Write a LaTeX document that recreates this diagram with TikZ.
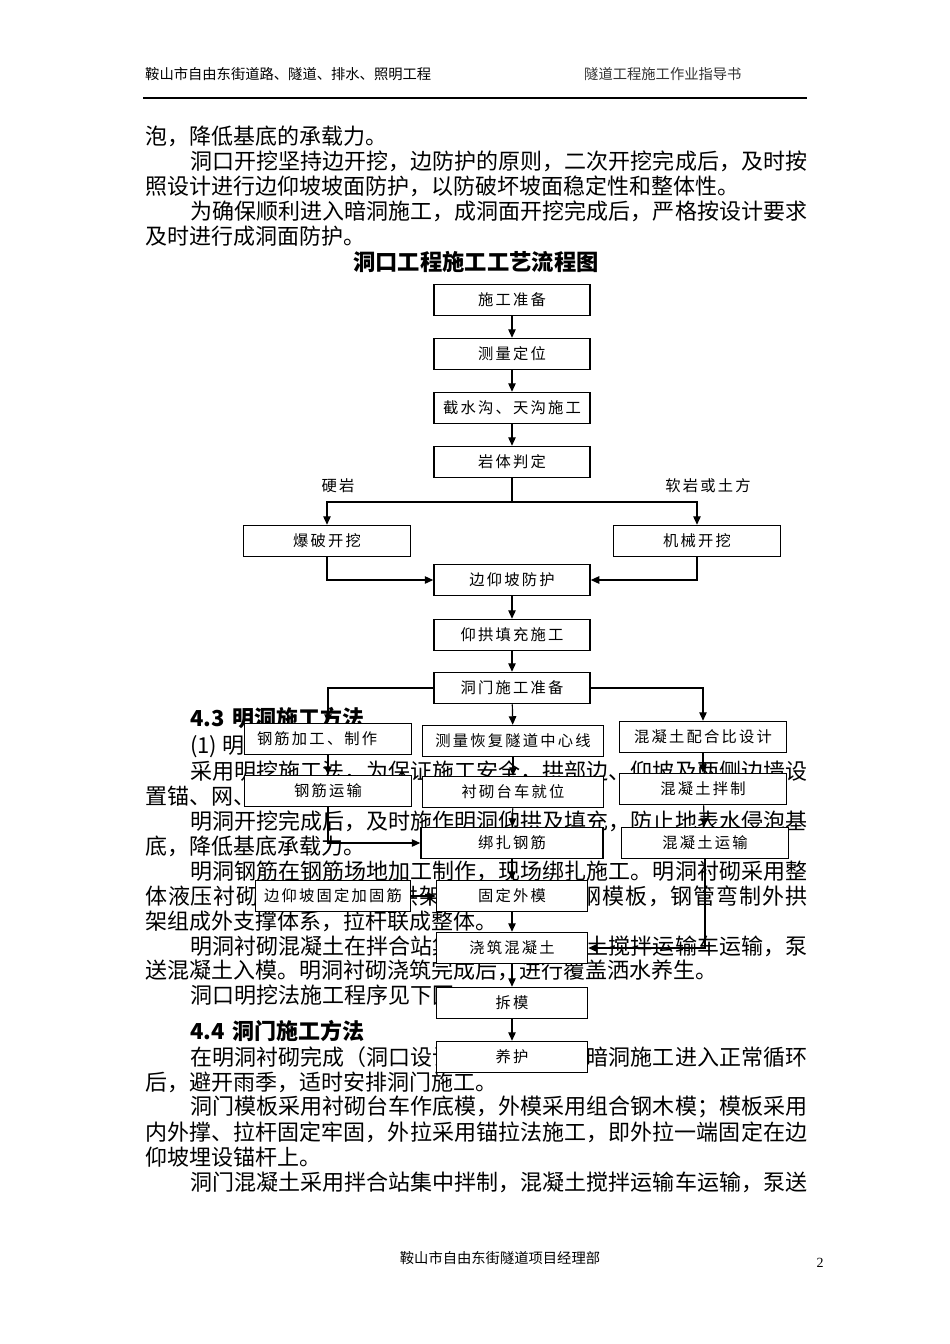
\documentclass[tikz,border=0pt]{standalone}
\usepackage{fontspec}
\setmainfont{Noto Sans CJK SC}
\newfontfamily\numfont{Liberation Serif}
\usetikzlibrary{positioning, arrows.meta}

\makeatletter
% spread a line of characters over a given width
\newcommand\fl[2]{\hbox to #1{\@tfor\tkn:=#2\do{\tkn\hskip0pt plus1fil minus2pt}\unskip}}
% box text with a little letter spacing
\newcommand\bx[1]{\@tfor\tkn:=#1\do{\tkn\hskip2.2pt}\unskip}
\makeatother

\newcommand\bodyf{\fontsize{22pt}{25pt}\selectfont}
\newcommand\boxf{\fontsize{15.3pt}{18pt}\selectfont}
\newcommand\headf{\fontsize{14.3pt}{17pt}\selectfont}

\tikzset{
  box/.style={draw, fill=white, line width=1.5pt, minimum height=31pt, inner sep=0pt, font=\boxf},
  arr/.style={line width=1.2pt, -{Triangle[length=8.5pt,width=7.5pt]}},
  ln/.style={anchor=west, inner sep=0pt, font=\bodyf},
}

\begin{document}
\begin{tikzpicture}[x=1pt,y=-1pt]
\useasboundingbox (0,0) rectangle (950,1344);

% page header and footer
\node[anchor=west, inner sep=0pt, font=\headf] (hl) at (145,74) {鞍山市自由东街道路、隧道、排水、照明工程};
\node[anchor=west, inner sep=0pt, font=\headf, text=black!80] (hr) at (584,74) {隧道工程施工作业指导书};
\coordinate (r1) at (143,98);
\coordinate (r2) at (807,98);
\draw[line width=1.4pt] (r1) -- (r2);
\node[inner sep=0pt, font=\headf] (ft) at (500,1258) {鞍山市自由东街隧道项目经理部};
\node[inner sep=0pt, font=\numfont\fontsize{14pt}{16pt}\selectfont] (pg) at (820,1263) {2};

% body text
\node[ln] (p1) at (145,136) {泡，降低基底的承载力。};
\node[ln] (p2) at (190,161) {\fl{617pt}{洞口开挖坚持边开挖，边防护的原则，二次开挖完成后，及时按}};
\node[ln] (p3) at (145,186) {照设计进行边仰坡坡面防护，以防破坏坡面稳定性和整体性。};
\node[ln] (p4) at (190,211) {\fl{617pt}{为确保顺利进入暗洞施工，成洞面开挖完成后，严格按设计要求}};
\node[ln] (p5) at (145,236) {及时进行成洞面防护。};
\node[inner sep=0pt, font=\bfseries\fontsize{22.3pt}{25pt}\selectfont] (ttl) at (476,262) {洞口工程施工工艺流程图};

\node[ln, font=\bfseries\bodyf] (h43) at (190,718) {4.3\hspace{8pt}明洞施工方法};
\node[ln] (q1) at (190,746) {(1) 明洞开挖};
\node[ln] (q2) at (190,771) {\fl{617pt}{采用明挖施工法，为保证施工安全，拱部边、仰坡及两侧边墙设}};
\node[ln] (q3) at (145,796) {置锚、网、喷联合支护。};
\node[ln] (q4) at (190,821) {\fl{617pt}{明洞开挖完成后，及时施作明洞仰拱及填充，防止地表水侵泡基}};
\node[ln] (q5) at (145,846) {底，降低基底承载力。};
\node[ln] (q6) at (190,871) {\fl{617pt}{明洞钢筋在钢筋场地加工制作，现场绑扎施工。明洞衬砌采用整}};
\node[ln] (q7) at (145,896) {\fl{662pt}{体液压衬砌台车，外模用拱架及组合式定型钢模板，钢管弯制外拱}};
\node[ln] (q8) at (145,921) {架组成外支撑体系，拉杆联成整体。};
\node[ln] (q9) at (190,946) {\fl{617pt}{明洞衬砌混凝土在拌合站集中拌制，混凝土搅拌运输车运输，泵}};
\node[ln] (q10) at (145,970) {送混凝土入模。明洞衬砌浇筑完成后，进行覆盖洒水养生。};
\node[ln] (q11) at (190,995) {洞口明挖法施工程序见下图。};

\node[ln, font=\bfseries\bodyf] (h44) at (190,1031) {4.4\hspace{8pt}洞门施工方法};
\node[ln] (s1) at (190,1057) {\fl{617pt}{在明洞衬砌完成（洞口设计明洞段）并且暗洞施工进入正常循环}};
\node[ln] (s2) at (145,1082) {后，避开雨季，适时安排洞门施工。};
\node[ln] (s3) at (190,1107) {\fl{617pt}{洞门模板采用衬砌台车作底模，外模采用组合钢木模；模板采用}};
\node[ln] (s4) at (145,1132) {\fl{662pt}{内外撑、拉杆固定牢固，外拉采用锚拉法施工，即外拉一端固定在边}};
\node[ln] (s5) at (145,1157) {仰坡埋设锚杆上。};
\node[ln] (s6) at (190,1182) {\fl{617pt}{洞门混凝土采用拌合站集中拌制，混凝土搅拌运输车运输，泵送}};

% flow chart
\node[box, minimum width=156pt] (A) at (512,300) {\bx{施工准备}};
\node[box, minimum width=156pt] (B) at (512,354) {\bx{测量定位}};
\node[box, minimum width=156pt] (C) at (512,408) {\bx{截水沟、天沟施工}};
\node[box, minimum width=156pt] (D) at (512,462) {\bx{岩体判定}};
\node[inner sep=0pt, font=\boxf] (hard) at (338,486) {\bx{硬岩}};
\node[inner sep=0pt, font=\boxf] (soft) at (708,486) {\bx{软岩或土方}};
\node[box, minimum width=167pt] (E) at (327,541) {\bx{爆破开挖}};
\node[box, minimum width=167pt] (F) at (697,541) {\bx{机械开挖}};
\node[box, minimum width=156pt] (G) at (512,580) {\bx{边仰坡防护}};
\node[box, minimum width=156pt] (H) at (512,635) {\bx{仰拱填充施工}};
\node[box, minimum width=156pt] (I) at (512,688) {\bx{洞门施工准备}};
\node[box, minimum width=167pt, text width=142pt, align=left] (J) at (328,739) {\bx{钢筋加工、制作}};
\node[box, minimum width=181pt] (K) at (513,741) {\bx{测量恢复隧道中心线}};
\node[box, minimum width=167pt] (L) at (703,737) {\bx{混凝土配合比设计}};
\node[box, minimum width=167pt] (M) at (328,791) {\bx{钢筋运输}};
\node[box, minimum width=181pt] (N) at (513,792) {\bx{衬砌台车就位}};
\node[box, minimum width=167pt] (O) at (703,789) {\bx{混凝土拌制}};
\node[box, minimum width=182pt] (P) at (512,843) {\bx{绑扎钢筋}};
\node[box, minimum width=167pt] (Q) at (705,843) {\bx{混凝土运输}};
\node[box, minimum width=155pt] (R) at (333,896) {\bx{边仰坡固定加固筋}};
\node[box, minimum width=151pt] (S) at (512,896) {\bx{固定外模}};
\node[box, minimum width=151pt] (T) at (512,948) {\bx{浇筑混凝土}};
\node[box, minimum width=151pt] (U) at (512,1003) {\bx{拆模}};
\node[box, minimum width=151pt] (V) at (512,1057) {\bx{养护}};

\coordinate (d1) at (512,502);
\draw[arr] (A) -- (B);
\draw[arr] (B) -- (C);
\draw[arr] (C) -- (D);
\draw[line width=1.2pt] (D) -- (d1);
\draw[arr] (d1) -| (E);
\draw[arr] (d1) -| (F);
\draw[arr] (E) |- (G);
\draw[arr] (F) |- (G);
\draw[arr] (G) -- (H);
\draw[arr] (H) -- (I);
\draw[arr] (I) -| (J);
\draw[arr] (I) -- (K);
\draw[arr] (I) -| (L);
\draw[arr] (J) -- (M);
\draw[arr] (M) |- (P);
\draw[arr] (K) -- (N);
\draw[arr] (N) -- (P);
\draw[arr] (L) -- (O);
\draw[arr] (O) -- (Q);
\draw[arr] (P) -- (S);
\draw[arr] (R) -- (S);
\draw[arr] (S) -- (T);
\draw[arr] (Q) |- (T);
\draw[arr] (T) -- (U);
\draw[arr] (U) -- (V);
\end{tikzpicture}
\end{document}
